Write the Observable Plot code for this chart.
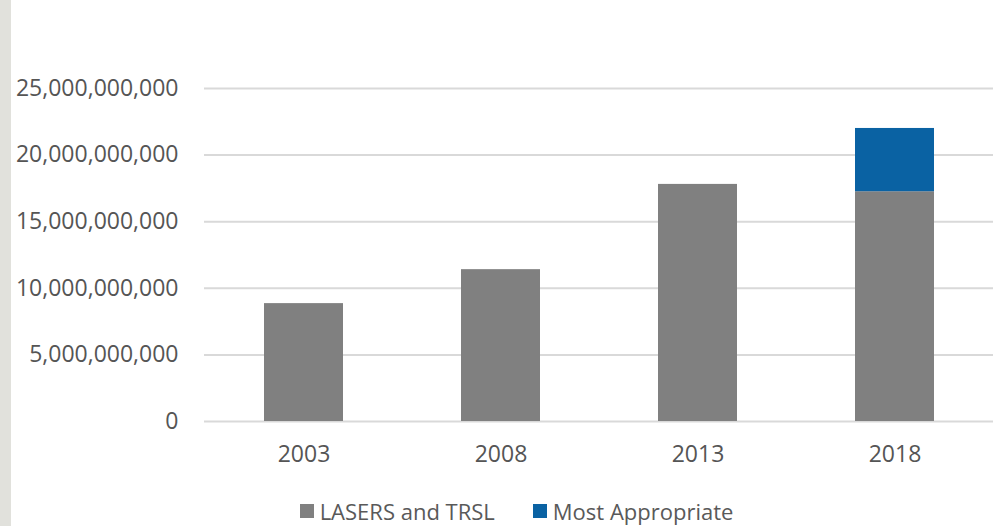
<!DOCTYPE html>
<html>
<head>
<meta charset="utf-8">
<script src="https://cdn.jsdelivr.net/npm/d3@7"></script>
<script src="https://cdn.jsdelivr.net/npm/@observablehq/plot@0.6"></script>
<style>
  html, body { margin: 0; padding: 0; background: #ffffff; }
  #wrap { position: relative; width: 993px; height: 526px; overflow: hidden; background: #ffffff; }
  #strip { position: absolute; left: 0; top: 0; width: 11px; height: 526px; background: #e1e1dc; }
  #chart { position: absolute; left: 0; top: 0; }
  #legend { position: absolute; left: 0; top: 497px; width: 993px; height: 28px;
    display: flex; justify-content: center; align-items: center; padding-left: 40px; box-sizing: border-box;
    font-family: "Open Sans", sans-serif; font-size: 22px; color: #595959; }
  .item { display: flex; align-items: center; margin: 0 19px; }
  .sw { width: 14px; height: 14px; margin-right: 6px; }
</style>
</head>
<body>
<div id="wrap">
  <div id="strip"></div>
  <div id="chart"></div>
  <div id="legend"></div>
</div>
<script>
const years = ["2003", "2008", "2013", "2018"];
const seriesNames = ["LASERS and TRSL", "Most Appropriate"];
const lasersTRSL = [8.85e9, 11.4e9, 17.8e9, 17.25e9];
const mostAppropriate = [0, 0, 0, 4.75e9];
const seriesColors = ["#808080", "#0a62a3"];
const yTicks = [0, 5e9, 10e9, 15e9, 20e9, 25e9];

const data = years.flatMap((yr, i) => [
  {year: yr, series: seriesNames[0], value: lasersTRSL[i]},
  {year: yr, series: seriesNames[1], value: mostAppropriate[i]}
]);

const chart = Plot.plot({
  width: 993,
  height: 470,
  marginTop: 88,
  marginBottom: 49,
  marginLeft: 204,
  marginRight: 0,
  style: {fontFamily: "'Open Sans', sans-serif", fontSize: "23px", color: "#555555", background: "transparent"},
  x: {domain: years, paddingInner: 0.6, paddingOuter: 0.3, label: null, tickSize: 0, tickPadding: 24},
  y: {domain: [0, 25e9], ticks: yTicks, tickFormat: d3.format(","), label: null, tickSize: 0, tickPadding: 26},
  color: {domain: seriesNames, range: seriesColors},
  marks: [
    Plot.gridY(yTicks, {stroke: "#d9d9d9", strokeOpacity: 1, strokeWidth: 2}),
    Plot.barY(data, {x: "year", y: "value", fill: "series", order: seriesNames})
  ]
});
document.getElementById("chart").appendChild(chart);

const legend = document.getElementById("legend");
seriesNames.forEach((name, i) => {
  const item = document.createElement("div");
  item.className = "item";
  const sw = document.createElement("div");
  sw.className = "sw";
  sw.style.background = seriesColors[i];
  const label = document.createElement("span");
  label.textContent = name;
  item.appendChild(sw);
  item.appendChild(label);
  legend.appendChild(item);
});
</script>
</body>
</html>
